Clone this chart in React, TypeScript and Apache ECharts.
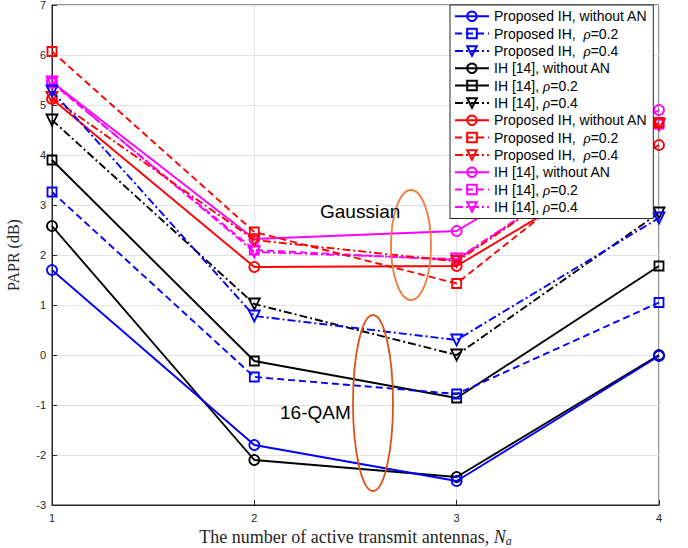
import React, { useEffect, useRef } from "react";
import * as echarts from "echarts";

const xValues = [1, 2, 3, 4];
const yTicks = [-3, 7];

const labels = [
  "Proposed IH, without AN",
  "Proposed IH,  ρ=0.2",
  "Proposed IH,  ρ=0.4",
  "IH [14], without AN",
  "IH [14], ρ=0.2",
  "IH [14], ρ=0.4",
  "Proposed IH, without AN",
  "Proposed IH,  ρ=0.2",
  "Proposed IH,  ρ=0.4",
  "IH [14], without AN",
  "IH [14], ρ=0.2",
  "IH [14], ρ=0.4",
];

const blueNoAN = [1.7, -1.8, -2.52, -0.02];
const blueRho02 = [3.26, -0.44, -0.78, 1.05];
const blueRho04 = [5.28, 0.78, 0.3, 2.74];
const blackNoAN = [2.58, -2.1, -2.44, 0.0];
const blackRho02 = [3.9, -0.12, -0.86, 1.78];
const blackRho04 = [4.7, 1.02, 0.0, 2.84];
const redNoAN = [5.12, 1.76, 1.78, 4.2];
const redRho02 = [6.07, 2.46, 1.43, 4.65];
const redRho04 = [5.15, 2.3, 1.87, 4.62];
const magNoAN = [5.46, 2.32, 2.48, 4.9];
const magRho02 = [5.44, 2.1, 1.9, 4.62];
const magRho04 = [5.46, 2.06, 1.92, 4.6];

const seriesValues = [
  blueNoAN, blueRho02, blueRho04,
  blackNoAN, blackRho02, blackRho04,
  redNoAN, redRho02, redRho04,
  magNoAN, magRho02, magRho04,
];

const BLUE = "#0000FF";
const BLACK = "#000000";
const RED = "#FF0000";
const MAG = "#FF00FF";
const colors = [BLUE, BLUE, BLUE, BLACK, BLACK, BLACK, RED, RED, RED, MAG, MAG, MAG];

const DASH: number[] = [7, 4];
const DASHDOT: number[] = [8, 3, 2, 3];

export default function App() {
  const ref = useRef<HTMLDivElement>(null);
  useEffect(() => {
    if (!ref.current) return;
    const chart = echarts.init(ref.current, null, { renderer: "svg" });
    const styleFor = (i: number) => {
      const k = i % 3;
      const group = Math.floor(i / 3);
      let lineType: any = "solid";
      let symbol = "circle";
      let size = 10;
      let rotate = 0;
      if (k === 1) {
        symbol = "rect";
        size = 9;
        lineType = group === 1 ? "solid" : DASH;
      } else if (k === 2) {
        symbol = "triangle";
        size = 11;
        rotate = 180;
        lineType = DASHDOT;
      }
      return { lineType, symbol, size, rotate };
    };
    const series = seriesValues.map((vals, i) => {
      const s = styleFor(i);
      return {
        name: "s" + i,
        type: "line",
        data: vals.map((v, j) => [xValues[j], v]),
        symbol: s.symbol,
        symbolSize: s.size,
        symbolRotate: s.rotate,
        showSymbol: true,
        lineStyle: { color: colors[i], width: 1.9, type: s.lineType },
        itemStyle: { color: "rgba(0,0,0,0)", borderColor: colors[i], borderWidth: 1.8 },
        emphasis: { disabled: true },
        z: 2 + (11 - i) * 0.01,
      };
    });
    chart.setOption({
      animation: false,
      backgroundColor: "#ffffff",
      grid: {
        left: 52,
        right: 29,
        top: 5,
        bottom: 43,
        outerBoundsMode: "none",
        containLabel: false,
        show: true,
        borderColor: "#262626",
        borderWidth: 1,
      },
      xAxis: {
        type: "value",
        min: xValues[0],
        max: xValues[xValues.length - 1],
        interval: 1,
        name: "The number of active transmit antennas, {i|N}{s|a}",
        nameLocation: "middle",
        nameGap: 21,
        nameTextStyle: {
          fontFamily: "Liberation Serif",
          fontSize: 18,
          color: "#262626",
          rich: {
            i: { fontFamily: "Liberation Serif", fontStyle: "italic", fontSize: 18, color: "#262626" },
            s: { fontFamily: "Liberation Serif", fontStyle: "italic", fontSize: 12, color: "#262626", verticalAlign: "bottom", padding: [9, 0, 0, 0] },
          },
        },
        axisLine: { onZero: false, lineStyle: { color: "#262626", width: 1 } },
        axisTick: { inside: true, length: 5, lineStyle: { color: "#262626" } },
        axisLabel: { color: "#262626", fontSize: 11, fontFamily: "Liberation Sans", margin: 7 },
        splitLine: { show: true, lineStyle: { color: "#e3e3e3", width: 1 } },
      },
      yAxis: {
        type: "value",
        min: yTicks[0],
        max: yTicks[1],
        interval: 1,
        name: "PAPR (dB)",
        nameLocation: "middle",
        nameGap: 31,
        nameTextStyle: { fontFamily: "Liberation Serif", fontSize: 16, color: "#262626" },
        axisLine: { show: true, onZero: false, lineStyle: { color: "#262626", width: 1 } },
        axisTick: { inside: true, length: 5, lineStyle: { color: "#262626" } },
        axisLabel: { color: "#262626", fontSize: 11, fontFamily: "Liberation Sans", margin: 6 },
        splitLine: { show: true, lineStyle: { color: "#e3e3e3", width: 1 } },
      },
      legend: {
        show: true,
        orient: "vertical",
        left: 450,
        top: 5,
        padding: [4, 6, 4, 4],
        itemWidth: 34,
        itemHeight: 12,
        itemGap: 2.5,
        backgroundColor: "#ffffff",
        borderColor: "#262626",
        borderWidth: 1,
        borderRadius: 0,
        data: seriesValues.map((_, i) => "s" + i),
        formatter: (name: string) => {
          const idx = parseInt(name.slice(1), 10);
          return labels[idx].replace("ρ", "{i|ρ}");
        },
        textStyle: {
          fontFamily: "Liberation Sans",
          fontSize: 14,
          lineHeight: 14.5,
          color: "#000",
          rich: {
            i: { fontFamily: "Liberation Serif", fontStyle: "italic", fontSize: 15, lineHeight: 14.5, color: "#000" },
          },
        },
        z: 10,
      },
      graphic: [
        {
          type: "ellipse",
          shape: { cx: 411, cy: 245, rx: 20, ry: 55 },
          style: { fill: "none", stroke: "#F47B3B", lineWidth: 1.8 },
          z: 5,
        },
        {
          type: "ellipse",
          shape: { cx: 373, cy: 403, rx: 20, ry: 88 },
          style: { fill: "none", stroke: "#D95319", lineWidth: 1.8 },
          z: 5,
        },
        {
          type: "text",
          x: 320,
          y: 202,
          style: { text: "Gaussian", font: "19px 'Liberation Sans'", fill: "#000" },
          z: 5,
        },
        {
          type: "text",
          x: 280,
          y: 403,
          style: { text: "16-QAM", font: "19px 'Liberation Sans'", fill: "#000" },
          z: 5,
        },
      ],
      series,
    });
    return () => chart.dispose();
  }, []);
  return <div ref={ref} style={{ width: 688, height: 548, position: "absolute", left: 0, top: 0 }} />;
}
